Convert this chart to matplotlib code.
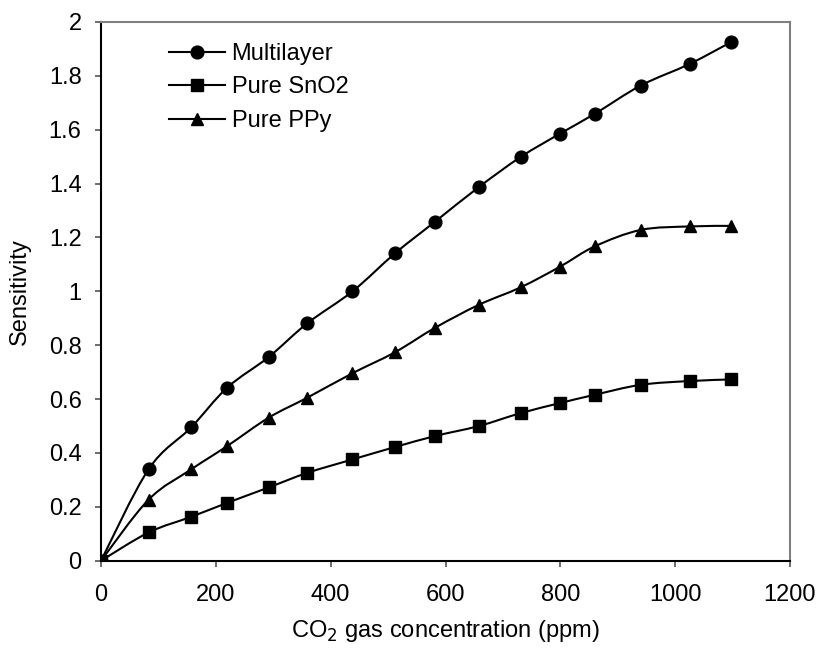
import numpy as np
import matplotlib
matplotlib.use("Agg")
import matplotlib.pyplot as plt
from matplotlib.path import Path
from matplotlib.patches import PathPatch

plt.rcParams['font.family'] = ['Liberation Sans', 'DejaVu Sans']

# CO2 concentration (ppm)
conc = [0, 83, 157, 220, 292, 359, 438, 512, 582, 658, 731, 799, 860, 940, 1025, 1098]

multilayer = [0, 0.34, 0.495, 0.643, 0.756, 0.881, 1.0, 1.141, 1.259, 1.387,
              1.499, 1.585, 1.659, 1.764, 1.844, 1.926]
pure_sno2 = [0, 0.105, 0.163, 0.215, 0.272, 0.326, 0.376, 0.422, 0.463, 0.5,
             0.548, 0.585, 0.616, 0.653, 0.667, 0.673]
pure_ppy = [0, 0.227, 0.339, 0.426, 0.531, 0.605, 0.696, 0.774, 0.865, 0.95,
            1.015, 1.091, 1.167, 1.228, 1.241, 1.243]

labels = ["Multilayer", "Pure SnO2", "Pure PPy"]
markers = ["o", "s", "^"]
msizes = [9.2, 8.6, 9.2]
zorders = [3, 5, 4]


def smooth_path(x, y, t=1 / 6):
    # excel-like smoothed line: cubic bezier through the points
    x = np.asarray(x, float)
    y = np.asarray(y, float)
    verts = [(x[0], y[0])]
    codes = [Path.MOVETO]
    n = len(x)
    for i in range(n - 1):
        x0, y0 = (x[i - 1], y[i - 1]) if i > 0 else (x[i], y[i])
        x3, y3 = (x[i + 2], y[i + 2]) if i + 2 < n else (x[i + 1], y[i + 1])
        c1 = (x[i] + (x[i + 1] - x0) * t, y[i] + (y[i + 1] - y0) * t)
        c2 = (x[i + 1] - (x3 - x[i]) * t, y[i + 1] - (y3 - y[i]) * t)
        verts += [c1, c2, (x[i + 1], y[i + 1])]
        codes += [Path.CURVE4] * 3
    return Path(verts, codes)


fig = plt.figure(figsize=(8.2, 6.52), dpi=100)
ax = fig.add_axes([0.1232, 0.140, 0.8402, 0.8263])

for ys, lab, m, ms, z in zip([multilayer, pure_sno2, pure_ppy], labels, markers, msizes, zorders):
    ax.add_patch(PathPatch(smooth_path(conc, ys), facecolor='none',
                           edgecolor='black', lw=1.5, zorder=2))
    ax.plot(conc, ys, linestyle='none', marker=m, ms=ms, color='black', zorder=z)
    # legend proxy
    ax.plot([], [], '-', marker=m, ms=ms, color='black', lw=1.5, label=lab)

ax.set_xlim(0, 1200)
ax.set_ylim(0, 2)
ax.set_xticks(np.arange(0, 1201, 200))
ax.set_yticks(np.arange(0, 2.01, 0.2))
ax.set_yticklabels(["0", "0.2", "0.4", "0.6", "0.8", "1", "1.2", "1.4", "1.6", "1.8", "2"])

for s in ['top', 'right']:
    ax.spines[s].set_color('#808080')
    ax.spines[s].set_linewidth(1.5)
for s in ['left', 'bottom']:
    ax.spines[s].set_color('black')
    ax.spines[s].set_linewidth(1.5)

ax.tick_params(axis='both', direction='out', length=4.5, width=1.2, color='#555555',
               labelsize=17)
ax.tick_params(axis='x', pad=12)
ax.tick_params(axis='y', pad=9.5)

ax.set_xlabel("CO$_2$ gas concentration (ppm)", fontsize=17, labelpad=9)
ax.set_ylabel("Sensitivity", fontsize=17, labelpad=13)

ax.legend(loc='upper left', bbox_to_anchor=(0.0987, 0.9614), frameon=False,
          fontsize=17, handlelength=2.37, handletextpad=0.28, labelspacing=0.49,
          borderpad=0, borderaxespad=0)

fig.savefig("out.png", dpi=100)
